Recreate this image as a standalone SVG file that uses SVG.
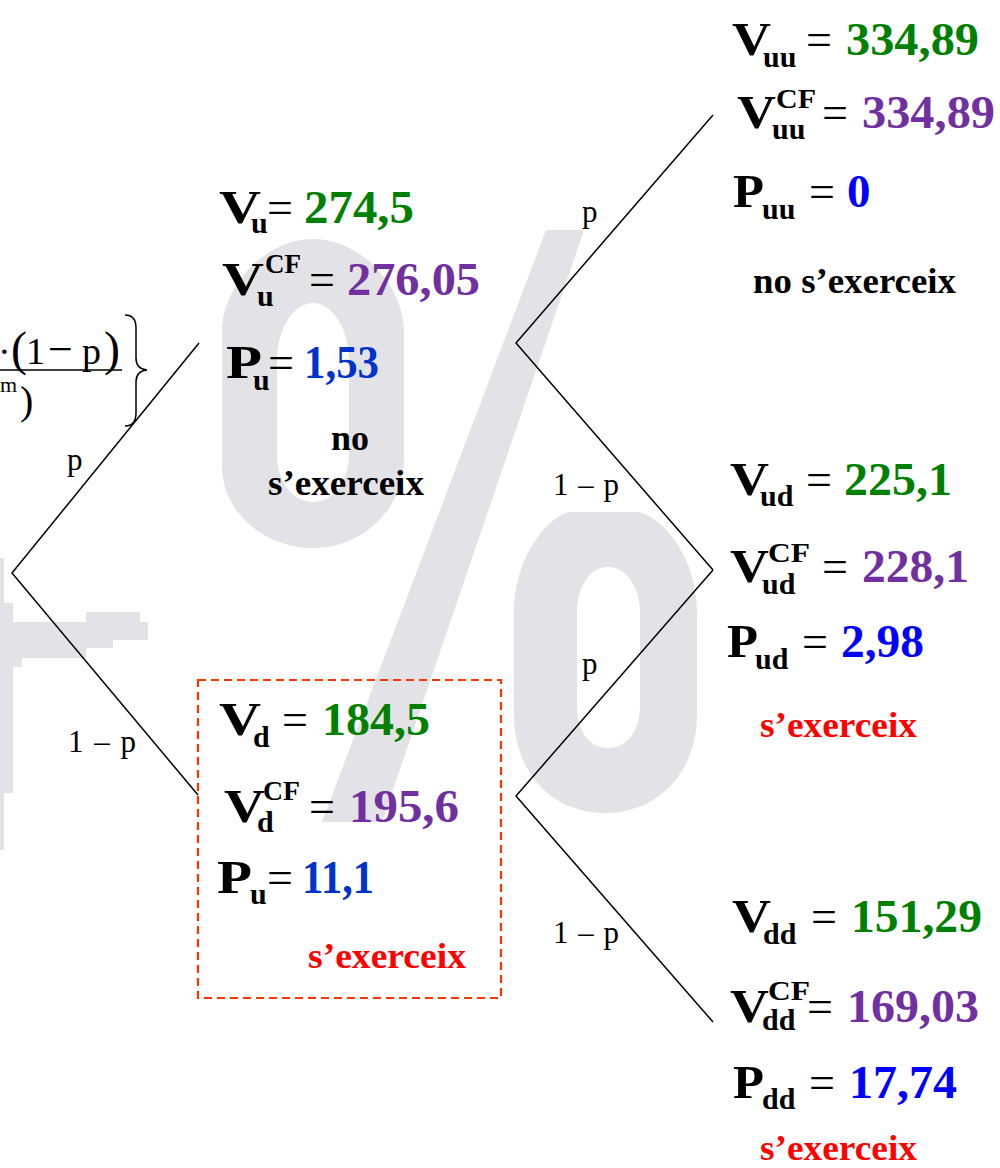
<svg xmlns="http://www.w3.org/2000/svg" width="1000" height="1168" viewBox="0 0 1000 1168">
<style>
text{font-family:"Liberation Serif","Times New Roman",serif}
.b{font-weight:bold;font-size:47px}
.sub{font-weight:bold;font-size:30px}
.sup{font-weight:bold;font-size:27px}
.eq{font-size:46px}
.t{font-weight:bold;font-size:36px}
.lbl{font-size:31px}
.f{font-size:38px}
.g{fill:#008000}.pu{fill:#7030a0}.bl{fill:#0033cc}.bb{fill:#0000ff}.r{fill:#ff0000}
.wm{fill:#e3e2e6}
.ln{stroke:#000;stroke-width:1.5;fill:none}
</style>
<rect width="1000" height="1168" fill="#fff"/>
<g id="watermark">
<path class="wm" fill-rule="evenodd" d="M313,239 C360,239 404,285 404,332 L404,458 C404,510 362,548 313,548 C264,548 222,512 222,466 L222,332 C222,285 266,239 313,239 Z M313,303 C333,303 349,330 349,360 L349,455 C349,482 333,502 313,502 C293,502 277,482 277,455 L277,360 C277,330 293,303 313,303 Z"/>
<polygon class="wm" points="546,230 584,230 382,822 322,822"/>
<path class="wm" fill-rule="evenodd" d="M568,512 L640,512 C675,525 697,570 697,612 L697,715 C697,770 660,813 605,813 C550,813 514,770 514,715 L514,612 C514,565 540,522 568,512 Z M608,567 C628,567 640,590 640,612 L640,705 C640,730 628,748 608,748 C588,748 577,730 577,705 L577,612 C577,590 588,567 608,567 Z"/>
<rect class="wm" x="0" y="558" width="4" height="292"/>
<rect class="wm" x="0" y="603" width="13" height="190"/>
<rect class="wm" x="86" y="612" width="54" height="10"/>
<rect class="wm" x="0" y="622" width="148" height="18"/>
<rect class="wm" x="0" y="640" width="113" height="8"/>
<rect class="wm" x="0" y="648" width="86" height="10"/>
<rect class="wm" x="0" y="658" width="22" height="9"/>
</g>
<g id="formula">
<text class="f" x="-2" y="364">·</text>
<text x="11" y="365" style="font-size:48px">(</text>
<text class="f" x="26" y="364">1</text>
<text x="48" y="364" style="font-size:44px">−</text>
<text class="f" x="82" y="364">p</text>
<text x="104" y="365" style="font-size:48px">)</text>
<line x1="0" y1="370" x2="122" y2="370" stroke="#000" stroke-width="1.5"/>
<text x="0" y="392" style="font-size:22px">m</text>
<text x="20" y="414" style="font-size:40px">)</text>
<path class="ln" d="M125,315 Q136,315 136,328 L136,358 Q136,369 147,370 Q136,371 136,382 L136,413 Q136,426 125,426"/>
</g>
<g id="connectors">
<polyline class="ln" points="199,343 12,573 198,795"/>
<polyline class="ln" points="713,115 516,343 713,570"/>
<polyline class="ln" points="713,570 516,796 713,1022"/>
<text class="lbl" x="67" y="470">p</text>
<text class="lbl" x="68" y="752">1 <tspan dx="3">–</tspan> <tspan dx="3">p</tspan></text>
<text class="lbl" x="582" y="222">p</text>
<text class="lbl" x="553" y="495">1 <tspan dx="2">–</tspan> <tspan dx="2">p</tspan></text>
<text class="lbl" x="582" y="674">p</text>
<text class="lbl" x="553" y="943">1 <tspan dx="2">–</tspan> <tspan dx="2">p</tspan></text>
</g>
<g id="node-u">
<text class="b" x="219" y="223" textLength="42" lengthAdjust="spacingAndGlyphs">V</text>
<text class="sub" x="251" y="233">u</text>
<text class="eq" x="267" y="223">=</text>
<text class="b g" x="304" y="223" textLength="110" lengthAdjust="spacingAndGlyphs">274,5</text>
<text class="b" x="222" y="295" textLength="42" lengthAdjust="spacingAndGlyphs">V</text>
<text class="sup" x="265" y="273" textLength="36" lengthAdjust="spacingAndGlyphs">CF</text>
<text class="sub" x="257" y="306">u</text>
<text class="eq" x="309" y="295">=</text>
<text class="b pu" x="347" y="295" textLength="133" lengthAdjust="spacingAndGlyphs">276,05</text>
<text class="b" x="226" y="378" textLength="36" lengthAdjust="spacingAndGlyphs">P</text>
<text class="sub" x="253" y="390">u</text>
<text class="eq" x="268" y="378">=</text>
<text class="b bl" x="304" y="378" textLength="75" lengthAdjust="spacingAndGlyphs">1,53</text>
<text class="t" x="350" y="450" text-anchor="middle">no</text>
<text class="t" x="268" y="495" textLength="156" lengthAdjust="spacingAndGlyphs">s’exerceix</text>
</g>
<g id="node-d">
<rect x="198" y="680" width="303" height="318" fill="none" stroke="#ff3300" stroke-width="2.2" stroke-dasharray="8,5"/>
<text class="b" x="219" y="735" textLength="42" lengthAdjust="spacingAndGlyphs">V</text>
<text class="sub" x="253" y="747">d</text>
<text class="eq" x="282" y="735">=</text>
<text class="b g" x="322" y="735" textLength="108" lengthAdjust="spacingAndGlyphs">184,5</text>
<text class="b" x="224" y="822" textLength="41" lengthAdjust="spacingAndGlyphs">V</text>
<text class="sup" x="263" y="800" textLength="37" lengthAdjust="spacingAndGlyphs">CF</text>
<text class="sub" x="257" y="832">d</text>
<text class="eq" x="309" y="822">=</text>
<text class="b pu" x="349" y="822" textLength="110" lengthAdjust="spacingAndGlyphs">195,6</text>
<text class="b" x="217" y="893" textLength="35" lengthAdjust="spacingAndGlyphs">P</text>
<text class="sub" x="250" y="904">u</text>
<text class="eq" x="267" y="893">=</text>
<text class="b bl" x="302" y="893" textLength="72" lengthAdjust="spacingAndGlyphs">11,1</text>
<text class="t r" x="308" y="968" textLength="158" lengthAdjust="spacingAndGlyphs">s’exerceix</text>
</g>
<g id="node-uu">
<text class="b" x="732" y="55" textLength="39" lengthAdjust="spacingAndGlyphs">V</text>
<text class="sub" x="763" y="67">uu</text>
<text class="eq" x="806" y="55">=</text>
<text class="b g" x="846" y="55" textLength="133" lengthAdjust="spacingAndGlyphs">334,89</text>
<text class="b" x="737" y="128" textLength="39" lengthAdjust="spacingAndGlyphs">V</text>
<text class="sup" x="776" y="108" textLength="40" lengthAdjust="spacingAndGlyphs">CF</text>
<text class="sub" x="772" y="139">uu</text>
<text class="eq" x="822" y="128">=</text>
<text class="b pu" x="862" y="128" textLength="133" lengthAdjust="spacingAndGlyphs">334,89</text>
<text class="b" x="733" y="207" textLength="31" lengthAdjust="spacingAndGlyphs">P</text>
<text class="sub" x="762" y="219">uu</text>
<text class="eq" x="809" y="207">=</text>
<text class="b bb" x="847" y="207">0</text>
<text class="t" x="753" y="293" textLength="203" lengthAdjust="spacingAndGlyphs">no s’exerceix</text>
</g>
<g id="node-ud">
<text class="b" x="730" y="495" textLength="39" lengthAdjust="spacingAndGlyphs">V</text>
<text class="sub" x="760" y="506">ud</text>
<text class="eq" x="806" y="495">=</text>
<text class="b g" x="844" y="495" textLength="108" lengthAdjust="spacingAndGlyphs">225,1</text>
<text class="b" x="730" y="582" textLength="39" lengthAdjust="spacingAndGlyphs">V</text>
<text class="sup" x="768" y="562" textLength="42" lengthAdjust="spacingAndGlyphs">CF</text>
<text class="sub" x="762" y="594">ud</text>
<text class="eq" x="822" y="582">=</text>
<text class="b pu" x="862" y="582" textLength="107" lengthAdjust="spacingAndGlyphs">228,1</text>
<text class="b" x="727" y="657" textLength="31" lengthAdjust="spacingAndGlyphs">P</text>
<text class="sub" x="755" y="669">ud</text>
<text class="eq" x="802" y="657">=</text>
<text class="b bb" x="841" y="657" textLength="83" lengthAdjust="spacingAndGlyphs">2,98</text>
<text class="t r" x="760" y="737" textLength="157" lengthAdjust="spacingAndGlyphs">s’exerceix</text>
</g>
<g id="node-dd">
<text class="b" x="732" y="932" textLength="39" lengthAdjust="spacingAndGlyphs">V</text>
<text class="sub" x="763" y="944">dd</text>
<text class="eq" x="811" y="932">=</text>
<text class="b g" x="851" y="932" textLength="131" lengthAdjust="spacingAndGlyphs">151,29</text>
<text class="b" x="730" y="1022" textLength="39" lengthAdjust="spacingAndGlyphs">V</text>
<text class="sup" x="768" y="1000" textLength="42" lengthAdjust="spacingAndGlyphs">CF</text>
<text class="sub" x="762" y="1030">dd</text>
<text class="eq" x="807" y="1022">=</text>
<text class="b pu" x="847" y="1022" textLength="132" lengthAdjust="spacingAndGlyphs">169,03</text>
<text class="b" x="733" y="1098" textLength="31" lengthAdjust="spacingAndGlyphs">P</text>
<text class="sub" x="762" y="1109">dd</text>
<text class="eq" x="809" y="1098">=</text>
<text class="b bb" x="849" y="1098" textLength="108" lengthAdjust="spacingAndGlyphs">17,74</text>
<text class="t r" x="760" y="1160" textLength="157" lengthAdjust="spacingAndGlyphs">s’exerceix</text>
</g>
</svg>
